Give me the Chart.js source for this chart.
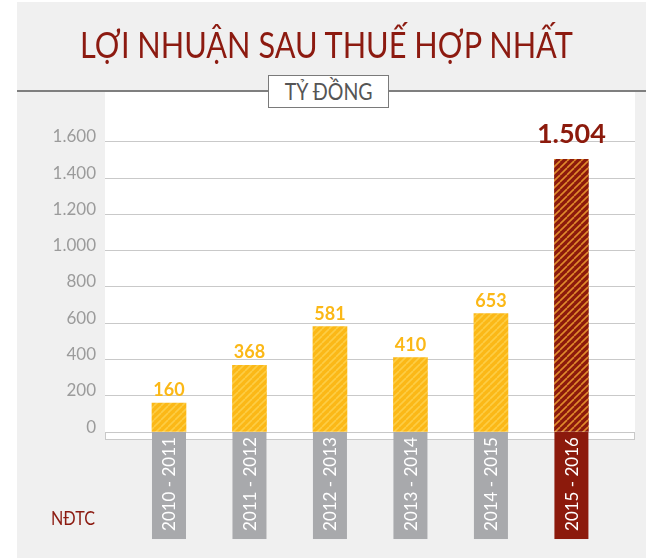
<!DOCTYPE html>
<html>
<head>
<meta charset="utf-8">
<script src="https://cdn.jsdelivr.net/npm/chart.js@4.4.6/dist/chart.umd.min.js"></script>
<style>
  html, body { margin: 0; padding: 0; background: #fff; }
  #wrap { position: relative; width: 653px; height: 558px; overflow: hidden; }
  #chartjs-profit { position: absolute; left: 0; top: 0; }
  #title {
    position: absolute; left: 0; top: 21px; width: 653px; text-align: center;
    color: #8c1a10; font: 37px "Lato", sans-serif; white-space: nowrap;
    transform: scaleX(0.83);
  }
  #unit {
    position: absolute; left: 268px; top: 75px; width: 121px; height: 33px;
    box-sizing: border-box; border: 1px solid #7a7a7a; background: #fff;
    color: #555; font: 23px "Lato", sans-serif; text-align: center; line-height: 31px;
  }
  #unit span { display: inline-block; transform: scaleX(0.85); }
  #source {
    position: absolute; left: 51px; top: 506px; color: #8c1a10;
    font: 19px "Lato", sans-serif; transform: scaleX(0.85); transform-origin: left;
  }
</style>
</head>
<body>
<div id="wrap">
  <canvas id="chartjs-profit" width="653" height="558"></canvas>
  <div id="title">LỢI NHUẬN SAU THUẾ HỢP NHẤT</div>
  <div id="unit"><span>TỶ ĐỒNG</span></div>
  <div id="source">NĐTC</div>
</div>
<script>
/* data */
const periods = ["2010 - 2011", "2011 - 2012", "2012 - 2013", "2013 - 2014", "2014 - 2015", "2015 - 2016"];
const profit = [160, 368, 581, 410, 653, 1504];
const highlight = [false, false, false, false, false, true];
const yTicks = [0, 200, 400, 600, 800, 1000, 1200, 1400, 1600];

/* colours */
const panelGray = "#f0f0f0";
const gridGray = "#c9c9c9";
const yellow = "#fbb817";
const yellowStripe = "#fdcd45";
const darkRed = "#8c1a0c";
const redStripe = "#e08a2c";
const labelGray = "#a8a9ac";

const fmt = v => String(v).replace(/\B(?=(\d{3})+(?!\d))/g, ".");

/* diagonal stripe fill like the original bars */
function stripes(base, line) {
  const c = document.createElement("canvas");
  c.width = 7; c.height = 7;
  const g = c.getContext("2d");
  g.fillStyle = base;
  g.fillRect(0, 0, 7, 7);
  g.strokeStyle = line;
  g.lineWidth = 1.6;
  for (let k = -7; k <= 14; k += 7) {
    g.beginPath();
    g.moveTo(k, 7);
    g.lineTo(k + 7, 0);
    g.stroke();
  }
  return g.createPattern(c, "repeat");
}
const yellowFill = stripes(yellow, yellowStripe);
const redFill = stripes(darkRed, redStripe);

/* panel, white plot area and rule under the title */
const background = {
  id: "background",
  beforeDraw(chart) {
    const { ctx, chartArea: a } = chart;
    ctx.save();
    ctx.fillStyle = "#fff";
    ctx.fillRect(0, 0, chart.width, chart.height);
    ctx.fillStyle = panelGray;
    ctx.fillRect(17, 2, 629, chart.height);
    ctx.fillStyle = "#fff";
    ctx.fillRect(a.left, 92, a.right - a.left, a.bottom - 92);
    ctx.strokeStyle = "#5a5a5a";
    ctx.lineWidth = 1.5;
    ctx.beginPath();
    ctx.moveTo(17, 91);
    ctx.lineTo(646, 91);
    ctx.stroke();
    ctx.restore();
  }
};

/* value labels and period labels on grey tabs */
const labels = {
  id: "labels",
  afterDatasetsDraw(chart) {
    const { ctx, chartArea: a } = chart;
    const y0 = chart.scales.y.getPixelForValue(0);
    const bars = chart.getDatasetMeta(0).data;
    ctx.save();
    // outline strip under the zero line
    ctx.strokeStyle = gridGray;
    ctx.lineWidth = 1;
    ctx.strokeRect(a.left + 0.5, y0 + 0.5, a.right - a.left - 1, a.bottom - y0 - 1);
    bars.forEach((bar, i) => {
      const w = bar.width;
      ctx.fillStyle = highlight[i] ? darkRed : labelGray;
      ctx.fillRect(bar.x - w / 2, y0, w, 107);
      ctx.save();
      ctx.translate(bar.x + 1, y0 + 52);
      ctx.rotate(-Math.PI / 2);
      ctx.fillStyle = "#fff";
      ctx.font = "17px Lato";
      ctx.textAlign = "center";
      ctx.textBaseline = "middle";
      ctx.fillText(periods[i], 0, 0);
      ctx.restore();

      ctx.textAlign = "center";
      ctx.textBaseline = "alphabetic";
      if (highlight[i]) {
        ctx.fillStyle = darkRed;
        ctx.font = "bold 27px Lato";
        ctx.fillText(fmt(profit[i]), bar.x, bar.y - 16);
      } else {
        ctx.fillStyle = yellow;
        ctx.font = "bold 18px Lato";
        ctx.fillText(fmt(profit[i]), bar.x, bar.y - 7);
      }
    });
    ctx.restore();
  }
};

const ctx = document.getElementById("chartjs-profit");

const config = {
  type: "bar",
  data: {
    datasets: [{
      data: profit.map((v, i) => ({ x: i, y: v })),
      backgroundColor: highlight.map(h => (h ? redFill : yellowFill)),
      barThickness: 34,
      borderWidth: 0
    }]
  },
  options: {
    responsive: false,
    animation: false,
    layout: { padding: { top: 92, bottom: 118, right: 18, left: 0 } },
    plugins: { legend: { display: false }, tooltip: { enabled: false } },
    scales: {
      x: {
        type: "linear",
        offset: false,
        min: -0.795,
        max: 5.79,
        display: false
      },
      y: {
        min: -44,
        max: 1875,
        afterFit: s => { s.width = 105; },
        afterBuildTicks: s => {
          s.ticks = yTicks.map(v => ({ value: v }));
        },
        grid: { color: gridGray, drawTicks: false, lineWidth: 1 },
        border: { display: false },
        ticks: {
          padding: 9,
          labelOffset: -5,
          color: "#9b9b9b",
          font: { family: "Lato", size: 17 },
          callback: v => fmt(v)
        }
      }
    }
  },
  plugins: [background, labels]
};

new Chart(ctx, config);
</script>
</body>
</html>
